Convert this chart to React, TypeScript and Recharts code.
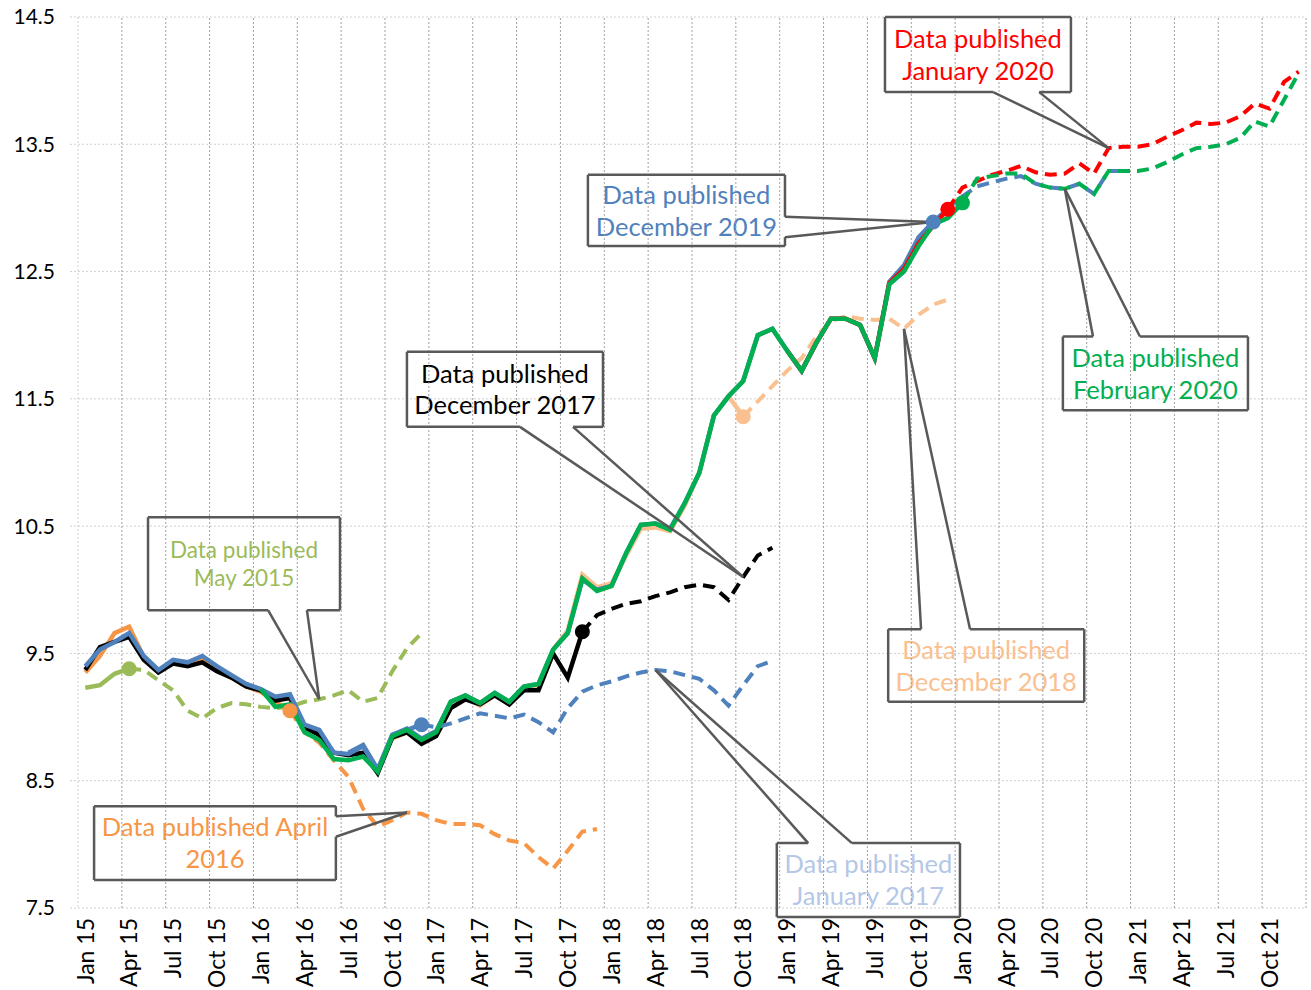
import React from 'react';
import {
  LineChart,
  Line,
  XAxis,
  YAxis,
  CartesianGrid,
  ReferenceLine,
  ReferenceArea,
  ReferenceDot,
} from 'recharts';

// month categories Jan 15 .. Dec 21
const MONTH_NAMES = ['Jan', 'Feb', 'Mar', 'Apr', 'May', 'Jun', 'Jul', 'Aug', 'Sep', 'Oct', 'Nov', 'Dec'];
const YEARS = ['15', '16', '17', '18', '19', '20', '21'];
const months = YEARS.flatMap((y) => MONTH_NAMES.map((m) => `${m} ${y}`));
const xTicks = months.map((_, i) => i).filter((i) => i % 3 === 0);
const yTicks = [7.5, 8.5, 9.5, 10.5, 11.5, 12.5, 13.5, 14.5];

// each vintage: values from its first month, last actual month marked by the dot
const may2015 = [9.23, 9.25, 9.34, 9.38, 9.37, 9.29, 9.21, 9.05, 8.99, 9.07, 9.11, 9.10, 9.08, 9.07, 9.08, 9.12, 9.14, 9.17, 9.21, 9.12, 9.15, 9.36, 9.54, 9.66];
const apr2016 = [9.35, 9.48, 9.66, 9.71, 9.47, 9.36, 9.43, 9.41, 9.45, 9.37, 9.31, 9.24, 9.20, 9.12, 9.05, 8.88, 8.80, 8.66, 8.53, 8.28, 8.14, 8.19, 8.25, 8.24, 8.19, 8.16, 8.16, 8.15, 8.08, 8.03, 8.01, 7.90, 7.81, 7.95, 8.10, 8.12];
const jan2017 = [8.72, 8.78, 8.59, 8.86, 8.90, 8.94, 8.92, 8.95, 8.99, 9.03, 9.01, 8.99, 9.02, 8.96, 8.88, 9.07, 9.20, 9.25, 9.28, 9.32, 9.35, 9.37, 9.36, 9.33, 9.30, 9.21, 9.09, 9.25, 9.40, 9.44];
const dec2017 = [9.37, 9.55, 9.59, 9.63, 9.45, 9.35, 9.42, 9.40, 9.43, 9.36, 9.31, 9.24, 9.21, 9.13, 9.15, 8.92, 8.86, 8.72, 8.70, 8.72, 8.56, 8.84, 8.88, 8.79, 8.85, 9.07, 9.14, 9.10, 9.17, 9.10, 9.21, 9.21, 9.50, 9.31, 9.67, 9.80, 9.85, 9.89, 9.91, 9.95, 9.98, 10.02, 10.04, 10.02, 9.92, 10.10, 10.27, 10.33];
const dec2018 = [8.83, 8.88, 8.80, 8.86, 9.10, 9.15, 9.09, 9.17, 9.10, 9.22, 9.25, 9.53, 9.68, 10.12, 10.02, 10.05, 10.27, 10.48, 10.49, 10.46, 10.66, 10.92, 11.37, 11.52, 11.36, 11.48, 11.60, 11.72, 11.82, 11.99, 12.11, 12.15, 12.13, 12.12, 12.13, 12.05, 12.16, 12.24, 12.28];
const dec2019 = [9.40, 9.53, 9.59, 9.66, 9.48, 9.37, 9.45, 9.43, 9.48, 9.40, 9.33, 9.26, 9.22, 9.16, 9.18, 8.94, 8.90, 8.72, 8.71, 8.77, 8.58, 8.86, 8.91, 8.83, 8.89, 9.12, 9.17, 9.11, 9.19, 9.12, 9.24, 9.26, 9.53, 9.66, 10.08, 10.00, 10.03, 10.29, 10.51, 10.52, 10.48, 10.68, 10.92, 11.37, 11.52, 11.64, 12.00, 12.05, 11.88, 11.72, 11.94, 12.13, 12.13, 12.08, 11.82, 12.42, 12.55, 12.77, 12.89, 13.00, 13.09, 13.17, 13.20, 13.23, 13.25, 13.19, 13.16, 13.15, 13.19, 13.11, 13.29, 13.29];
const jan2020 = [11.88, 11.72, 11.94, 12.13, 12.13, 12.08, 11.82, 12.41, 12.52, 12.72, 12.86, 12.99, 13.16, 13.21, 13.26, 13.29, 13.33, 13.28, 13.26, 13.27, 13.35, 13.27, 13.47, 13.48, 13.48, 13.50, 13.56, 13.61, 13.67, 13.66, 13.67, 13.72, 13.82, 13.78, 13.99, 14.07];
const feb2020 = [9.22, 9.08, 9.10, 8.88, 8.82, 8.67, 8.66, 8.69, 8.57, 8.85, 8.90, 8.82, 8.88, 9.12, 9.17, 9.11, 9.19, 9.12, 9.24, 9.26, 9.53, 9.66, 10.09, 9.99, 10.03, 10.29, 10.51, 10.52, 10.47, 10.68, 10.92, 11.37, 11.52, 11.64, 12.00, 12.05, 11.88, 11.72, 11.94, 12.13, 12.13, 12.08, 11.82, 12.40, 12.50, 12.70, 12.87, 12.92, 13.04, 13.23, 13.25, 13.27, 13.27, 13.19, 13.16, 13.15, 13.19, 13.11, 13.29, 13.29, 13.29, 13.31, 13.36, 13.42, 13.47, 13.48, 13.50, 13.55, 13.68, 13.64, 13.85, 14.06];

interface Vintage {
  key: string;
  color: string;
  start: number;
  cut: number;
  values: number[];
}

// draw order: later ones on top
const VINTAGES: Vintage[] = [
  { key: 'may2015', color: '#9BBB59', start: 0, cut: 3, values: may2015 },
  { key: 'apr2016', color: '#F79646', start: 0, cut: 14, values: apr2016 },
  { key: 'dec2018', color: '#FAC090', start: 21, cut: 45, values: dec2018 },
  { key: 'dec2017', color: '#000000', start: 0, cut: 34, values: dec2017 },
  { key: 'jan2017', color: '#4F81BD', start: 18, cut: 23, values: jan2017 },
  { key: 'dec2019', color: '#4F81BD', start: 0, cut: 58, values: dec2019 },
  { key: 'jan2020', color: '#FF0000', start: 48, cut: 59, values: jan2020 },
  { key: 'feb2020', color: '#00B050', start: 12, cut: 60, values: feb2020 },
];

const rows = months.map((label, i) => {
  const row: Record<string, number | string> = { i, label };
  for (const v of VINTAGES) {
    const val = v.values[i - v.start];
    if (val === undefined) continue;
    if (i <= v.cut) row[v.key + 'A'] = val;
    if (i >= v.cut) row[v.key + 'F'] = val;
  }
  return row;
});

// callout boxes in chart units (month index / value)
interface Callout {
  lines: string[];
  color: string;
  size: number;
  x1: number;
  x2: number;
  top: number;
  bottom: number;
  side: 'top' | 'bottom' | 'right';
  a: number;
  b: number;
  tip: { x: number; y: number };
}

const CALLOUTS: Callout[] = [
  { lines: ['Data published', 'May 2015'], color: '#9BBB59', size: 22.5, x1: 4.29, x2: 17.42, top: 10.57, bottom: 9.84, side: 'bottom', a: 12.5, b: 15.16, tip: { x: 16, y: 9.14 } },
  { lines: ['Data published April', '2016'], color: '#F79646', size: 25.5, x1: 0.6, x2: 17.14, top: 8.3, bottom: 7.72, side: 'right', a: 8.22, b: 8.06, tip: { x: 22, y: 8.25 } },
  { lines: ['Data published', 'January 2017'], color: '#B4C7E7', size: 25.5, x1: 47.3, x2: 59.83, top: 8.01, bottom: 7.43, side: 'top', a: 49.45, b: 52.44, tip: { x: 39, y: 9.37 } },
  { lines: ['Data published', 'December 2017'], color: '#000000', size: 25.5, x1: 22.0, x2: 35.41, top: 11.87, bottom: 11.28, side: 'bottom', a: 29.73, b: 33.36, tip: { x: 45, y: 10.1 } },
  { lines: ['Data published', 'December 2018'], color: '#FAC090', size: 25.5, x1: 54.92, x2: 68.33, top: 9.69, bottom: 9.12, side: 'top', a: 57.17, b: 60.52, tip: { x: 56, y: 12.05 } },
  { lines: ['Data published', 'December 2019'], color: '#4F81BD', size: 25.5, x1: 34.38, x2: 47.86, top: 13.26, bottom: 12.7, side: 'right', a: 12.93, b: 12.77, tip: { x: 58, y: 12.89 } },
  { lines: ['Data published', 'January 2020'], color: '#FF0000', size: 25.5, x1: 54.7, x2: 67.42, top: 14.5, bottom: 13.91, side: 'bottom', a: 62.1, b: 65.25, tip: { x: 70, y: 13.47 } },
  { lines: ['Data published', 'February 2020'], color: '#00B050', size: 25.5, x1: 66.87, x2: 79.53, top: 11.99, bottom: 11.41, side: 'top', a: 68.93, b: 72.14, tip: { x: 67, y: 13.15 } },
];

type Pt = { x: number; y: number };

function calloutSegments(c: Callout): [Pt, Pt][] {
  const tl = { x: c.x1, y: c.top };
  const tr = { x: c.x2, y: c.top };
  const bl = { x: c.x1, y: c.bottom };
  const br = { x: c.x2, y: c.bottom };
  const segs: [Pt, Pt][] = [];
  if (c.side === 'top') {
    const pa = { x: c.a, y: c.top };
    const pb = { x: c.b, y: c.top };
    segs.push([tl, pa], [pb, tr], [tr, br], [br, bl], [bl, tl], [pa, c.tip], [pb, c.tip]);
  } else if (c.side === 'bottom') {
    const pa = { x: c.a, y: c.bottom };
    const pb = { x: c.b, y: c.bottom };
    segs.push([tl, tr], [tr, br], [br, pb], [pa, bl], [bl, tl], [pa, c.tip], [pb, c.tip]);
  } else {
    const pa = { x: c.x2, y: c.a };
    const pb = { x: c.x2, y: c.b };
    segs.push([tl, tr], [tr, pa], [pb, br], [br, bl], [bl, tl], [pa, c.tip], [pb, c.tip]);
  }
  return segs;
}

const FONT = 'Lato, "Open Sans", sans-serif';

function CalloutText(props: any) {
  const { viewBox, lines, color, size } = props;
  if (!viewBox) return null;
  const cx = viewBox.x + viewBox.width / 2;
  const cy = viewBox.y + viewBox.height / 2;
  const gap = size * 1.25;
  return (
    <text textAnchor="middle" fill={color} fontSize={size} fontFamily={FONT}>
      {lines.map((line: string, k: number) => (
        <tspan key={k} x={cx} y={cy + (k - (lines.length - 1) / 2) * gap} dy="0.36em">
          {line}
        </tspan>
      ))}
    </text>
  );
}

function MonthTick(props: any) {
  const { x, y, payload } = props;
  return (
    <text
      x={x}
      y={y}
      transform={`rotate(-90, ${x}, ${y})`}
      textAnchor="end"
      dy="0.36em"
      fontSize={23}
      fill="#000"
      fontFamily={FONT}
    >
      {months[payload.value]}
    </text>
  );
}

// quarter boundaries for the vertical grid
const quarterEdges = xTicks.map((i) => i + 2.5);

export default function App() {
  return (
    <div style={{ position: 'absolute', left: 0, top: 0, background: '#fff' }}>
      <LineChart
        width={1311}
        height={990}
        data={rows}
        margin={{ top: 17, right: 5, left: 8, bottom: 0 }}
      >
        <CartesianGrid
          vertical={false}
          stroke="#d0d0d0"
          strokeDasharray="2 2"
        />
        <XAxis
          type="number"
          dataKey="i"
          domain={[-0.5, 83.5]}
          ticks={xTicks}
          interval={0}
          tick={<MonthTick />}
          tickLine={false}
          tickSize={0}
          tickMargin={10}
          axisLine={false}
          height={82}
          allowDecimals
        />
        <YAxis
          type="number"
          domain={[7.5, 14.5]}
          ticks={yTicks}
          interval={0}
          width={70}
          tickFormatter={(v: number) => v.toFixed(1)}
          tick={{ fontSize: 21, fill: '#000', fontFamily: FONT }}
          tickSize={8}
          tickMargin={15}
          tickLine={{ stroke: '#d0d0d0', strokeDasharray: '2 2' }}
          axisLine={{ stroke: '#d0d0d0', strokeDasharray: '2 2' }}
        />

        {quarterEdges.map((e) => (
          <ReferenceLine
            key={'q' + e}
            x={e}
            stroke="#a0a0a0"
            strokeDasharray="2 2"
            strokeWidth={1}
          />
        ))}

        {VINTAGES.map((v) => [
          <Line
            key={v.key + 'F'}
            type="linear"
            dataKey={v.key + 'F'}
            stroke={v.color}
            strokeWidth={4}
            strokeDasharray="12 7"
            dot={false}
            activeDot={false}
            isAnimationActive={false}
          />,
          <Line
            key={v.key + 'A'}
            type="linear"
            dataKey={v.key + 'A'}
            stroke={v.color}
            strokeWidth={4.5}
            dot={false}
            activeDot={false}
            isAnimationActive={false}
          />,
        ])}

        {VINTAGES.map((v) => (
          <ReferenceDot
            key={v.key + 'dot'}
            x={v.cut}
            y={v.values[v.cut - v.start]}
            r={7.5}
            fill={v.color}
            stroke="none"
            ifOverflow="visible"
          />
        ))}

        {CALLOUTS.flatMap((c, ci) =>
          calloutSegments(c).map((s, si) => (
            <ReferenceLine
              key={`c${ci}s${si}`}
              segment={s}
              stroke="#595959"
              strokeWidth={2.5}
              ifOverflow="visible"
            />
          )),
        )}

        {CALLOUTS.map((c, ci) => (
          <ReferenceArea
            key={`c${ci}box`}
            x1={c.x1}
            x2={c.x2}
            y1={c.bottom}
            y2={c.top}
            fill="#fff"
            fillOpacity={0}
            stroke="none"
            ifOverflow="visible"
            label={<CalloutText lines={c.lines} color={c.color} size={c.size} />}
          />
        ))}
      </LineChart>
    </div>
  );
}
